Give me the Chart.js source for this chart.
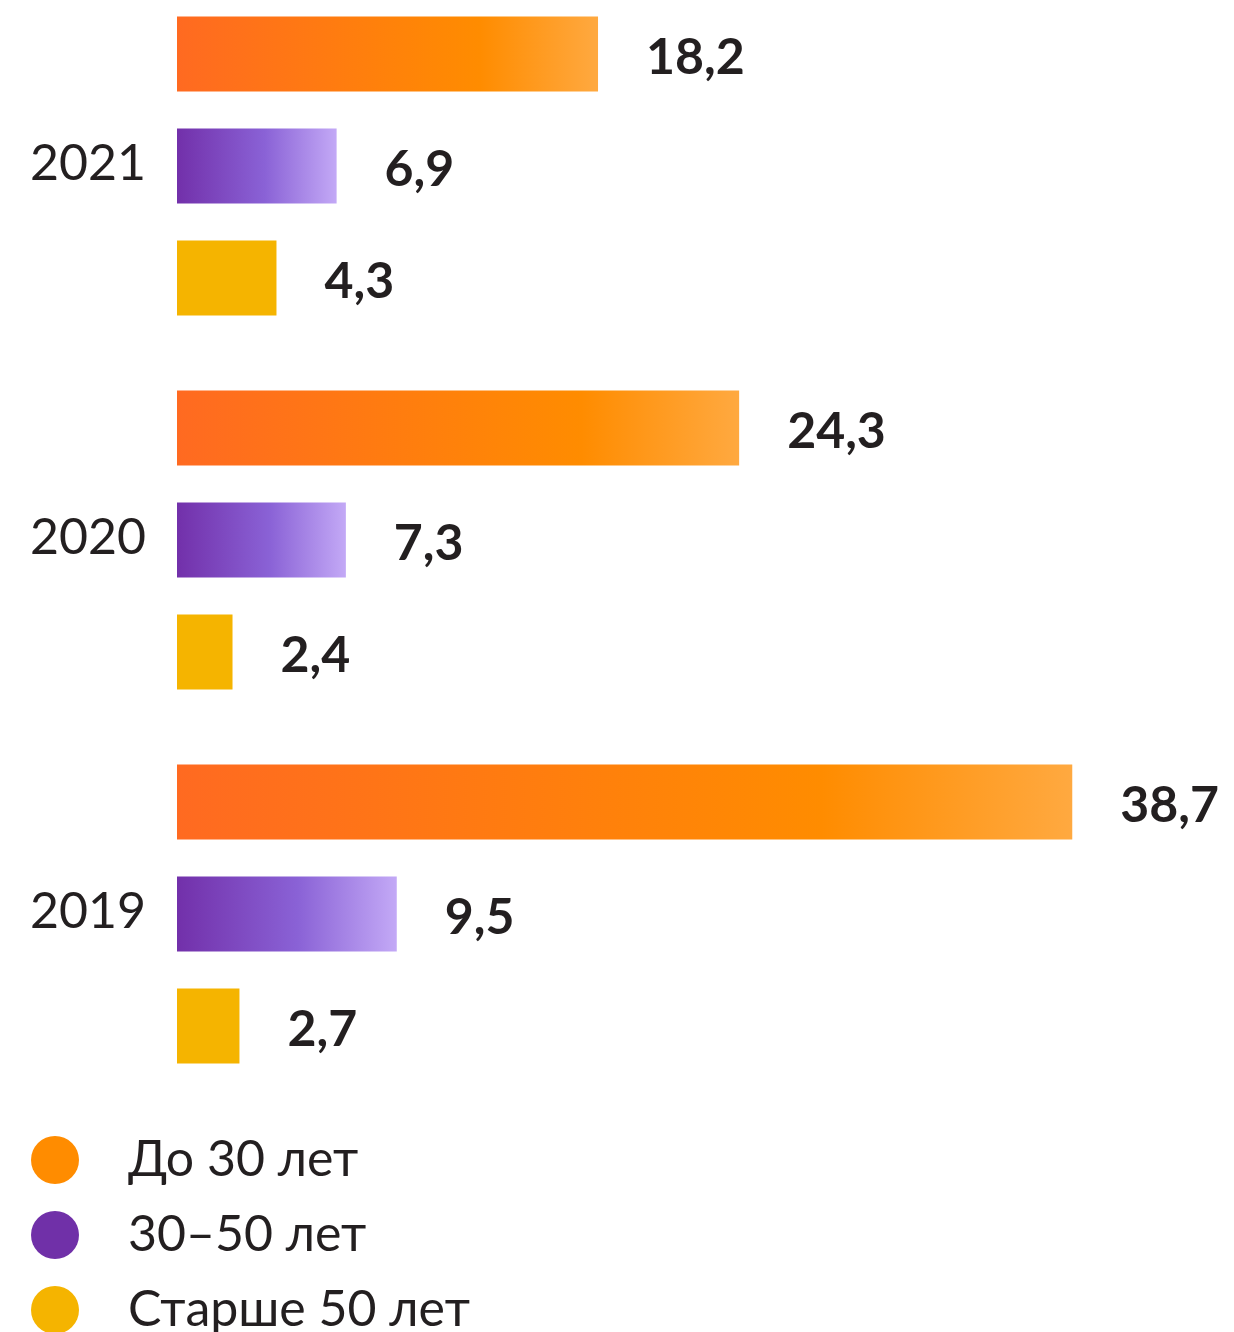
<!DOCTYPE html>
<html lang="ru">
<head>
<meta charset="utf-8">
<script src="https://cdn.jsdelivr.net/npm/chart.js@4/dist/chart.umd.min.js"></script>
<style>
  html, body { margin: 0; padding: 0; background: #fff; }
  body { width: 1234px; height: 1332px; position: relative; overflow: hidden; font-family: Lato, "Open Sans", sans-serif; color: #231f20; }
  #wrap { position: absolute; left: 0; top: -21px; width: 1234px; height: 1125px; }
  #legend { position: absolute; left: 31px; top: 1122px; }
  .item { display: flex; align-items: center; height: 75px; font-size: 50px; }
  .item span.txt { position: relative; top: -3px; }
  .dot { width: 48px; height: 48px; border-radius: 50%; margin-right: 49px; flex: none; }
</style>
</head>
<body>
<div id="wrap"><canvas id="chart"></canvas></div>
<div id="legend"></div>
<script>
const years = ['2021', '2020', '2019'];
const seriesNames = ['До 30 лет', '30–50 лет', 'Старше 50 лет'];
const under30 = [18.2, 24.3, 38.7];
const from30to50 = [6.9, 7.3, 9.5];
const over50 = [4.3, 2.4, 2.7];

const legendColors = ['#ff8c00', '#7030a8', '#f5b400'];

function gradientFill(stops) {
  return (ctx) => {
    const chart = ctx.chart;
    if (!chart.chartArea || ctx.raw == null) return stops[0][1];
    const x0 = chart.scales.x.getPixelForValue(0);
    const x1 = chart.scales.x.getPixelForValue(ctx.raw);
    const g = chart.ctx.createLinearGradient(x0, 0, x1, 0);
    stops.forEach(s => g.addColorStop(s[0], s[1]));
    return g;
  };
}

const orangeFill = gradientFill([[0, '#ff6a21'], [0.72, '#ff8c00'], [1, '#ffa940']]);
const purpleFill = gradientFill([[0, '#7230aa'], [0.55, '#8a62d6'], [1, '#c3a9f6']]);

// year labels on the left + value labels to the right of the bars
const textLabels = {
  id: 'textLabels',
  afterDatasetsDraw(chart) {
    const c = chart.ctx;
    c.save();
    c.fillStyle = '#231f20';
    c.textAlign = 'left';
    c.textBaseline = 'alphabetic';

    c.font = '50px Lato, "Open Sans", sans-serif';
    const y = chart.scales.y;
    chart.data.labels.forEach((lab, i) => {
      c.fillText(lab, 30, y.getPixelForValue(i) + 14);
    });

    c.font = 'bold 50px Lato, "Open Sans", sans-serif';
    chart.data.datasets.forEach((ds, i) => {
      chart.getDatasetMeta(i).data.forEach((bar, j) => {
        const txt = ds.data[j].toFixed(1).replace('.', ',');
        c.fillText(txt, bar.x + 48, bar.y + 20);
      });
    });
    c.restore();
  }
};

new Chart(document.getElementById('chart'), {
  type: 'bar',
  data: {
    labels: years,
    datasets: [
      { label: seriesNames[0], data: under30, backgroundColor: orangeFill },
      { label: seriesNames[1], data: from30to50, backgroundColor: purpleFill },
      { label: seriesNames[2], data: over50, backgroundColor: legendColors[2] }
    ]
  },
  options: {
    indexAxis: 'y',
    responsive: true,
    maintainAspectRatio: false,
    animation: false,
    categoryPercentage: 336 / 374,
    barPercentage: 75 / 112,
    layout: { padding: { left: 177, right: 16, top: 0, bottom: 3 } },
    plugins: { legend: { display: false }, tooltip: { enabled: false } },
    scales: {
      x: { display: false, min: 0, max: 45 },
      y: { display: false }
    }
  },
  plugins: [textLabels]
});

const legend = document.getElementById('legend');
seriesNames.forEach((name, i) => {
  const row = document.createElement('div');
  row.className = 'item';
  const dot = document.createElement('span');
  dot.className = 'dot';
  dot.style.background = legendColors[i];
  const txt = document.createElement('span');
  txt.className = 'txt';
  txt.textContent = name;
  row.appendChild(dot);
  row.appendChild(txt);
  legend.appendChild(row);
});
</script>
</body>
</html>
